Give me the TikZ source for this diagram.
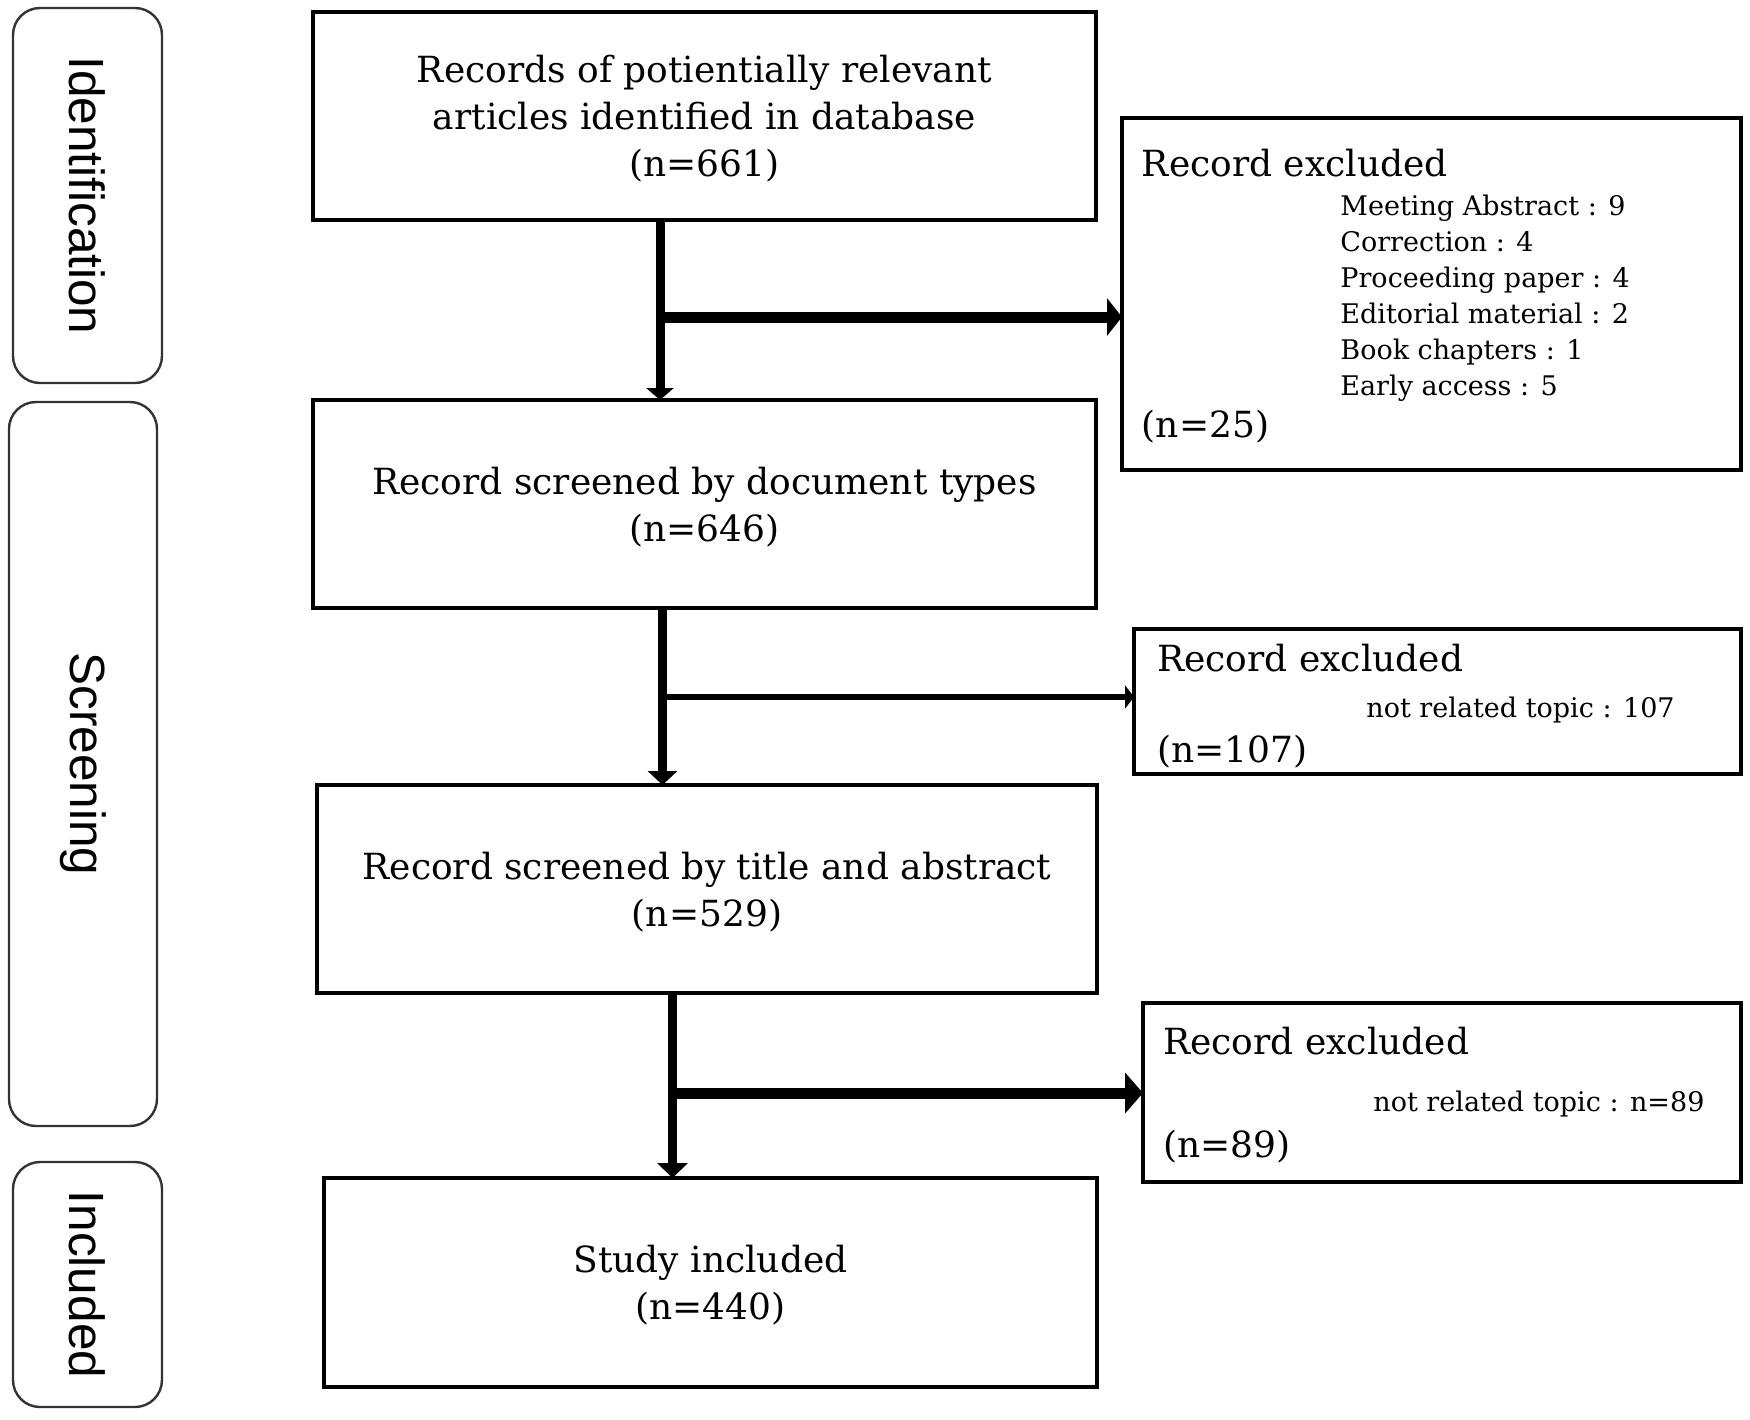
\documentclass[tikz,border=0pt]{standalone}
\usepackage{fontspec}
\setmainfont{DejaVu Serif}
\newfontfamily\sidefont{Liberation Sans}
\usetikzlibrary{arrows.meta}
\begin{document}
\begin{tikzpicture}[x=0.5pt,y=-0.5pt,
  mainbox/.style={draw=black, line width=2.2pt, inner sep=0pt, outer sep=0pt, align=center,
                  text depth=0pt, font=\fontsize{18}{23.5}\selectfont},
  exbox/.style={draw=black, line width=2.2pt, inner sep=0pt, outer sep=0pt},
  phase/.style={draw=black!80, line width=1.2pt, rounded corners=13.5pt, inner sep=0pt, outer sep=0pt,
                rotate=-90, font=\sidefont\fontsize{24.75}{30}\selectfont},
  extitle/.style={anchor=base west, inner sep=0pt, font=\fontsize{18}{22}\selectfont},
  exsub/.style={anchor=base west, inner sep=0pt, font=\fontsize{13.5}{18}\selectfont},
  vflow/.style={line width=4.5pt},
]
\useasboundingbox (0,0) rectangle (1750,1419);

% phase labels
\node[phase, minimum width=187.5pt, minimum height=74.5pt] (ident) at (87.5,195.5) {Identification};
\node[phase, minimum width=362pt, minimum height=74pt] (screen) at (83,764) {Screening};
\node[phase, minimum width=122.5pt, minimum height=74.5pt] (incl) at (87.5,1284.5) {Included};

% main boxes
\node[mainbox, minimum width=391.5pt, minimum height=104pt] (b1) at (704.5,116)
  {Records of potientially relevant\\articles identified in database\\(n=661)};
\node[mainbox, minimum width=391.5pt, minimum height=104pt] (b2) at (704.5,504)
  {Record screened by document types\\(n=646)};
\node[mainbox, minimum width=390pt, minimum height=104pt] (b3) at (707,889)
  {Record screened by title and abstract\\(n=529)};
\node[mainbox, minimum width=386.5pt, minimum height=104.5pt] (b4) at (710.5,1282.5)
  {Study included\\(n=440)};

% excluded boxes
\node[exbox, minimum width=309.5pt, minimum height=176pt] (e1) at (1431.5,294) {};
\node[exbox, minimum width=303.5pt, minimum height=72.5pt] (e2) at (1437.5,701.5) {};
\node[exbox, minimum width=299pt, minimum height=89.5pt] (e3) at (1442,1092.5) {};

\node[extitle] (e1t) at (1141.5,176) {Record excluded};
\foreach \t [count=\i] in {Meeting Abstract : 9, Correction : 4, Proceeding paper : 4,
                            Editorial material : 2, Book chapters : 1, Early access : 5}
  \node[exsub] (s\i) at (1340,{215+36*(\i-1)}) {\t};
\node[extitle] (e1n) at (1141.5,437) {(n=25)};

\node[extitle] (e2t) at (1157,671) {Record excluded};
\node[exsub] (e2s) at (1366,717) {not related topic : 107};
\node[extitle] (e2n) at (1157,762) {(n=107)};

\node[extitle] (e3t) at (1163,1054) {Record excluded};
\node[exsub] (e3s) at (1373,1111) {not related topic : n=89};
\node[extitle] (e3n) at (1163,1157) {(n=89)};

% connectors
\coordinate (j1) at (660,317);
\coordinate (j2) at (662.5,697);
\coordinate (j3) at (672.5,1093);

\draw[vflow, -{Triangle[length=6pt,width=13.5pt]}] (j1 |- b1.south) -- (j1 |- b2.north);
\draw[line width=5.5pt, -{Triangle[length=7.5pt,width=18.5pt]}] (j1) -- (j1 -| e1.west);

\draw[vflow, -{Triangle[length=7pt,width=14.5pt]}] (j2 |- b2.south) -- (j2 |- b3.north);
\draw[line width=3.3pt, -{Triangle[length=4.5pt,width=11.5pt]}] (j2) -- (j2 -| e2.west);

\draw[vflow, -{Triangle[length=7.5pt,width=15pt]}] (j3 |- b3.south) -- (j3 |- b4.north);
\draw[line width=5.5pt, -{Triangle[length=9pt,width=20pt]}] (j3) -- (j3 -| e3.west);
\end{tikzpicture}
\end{document}
